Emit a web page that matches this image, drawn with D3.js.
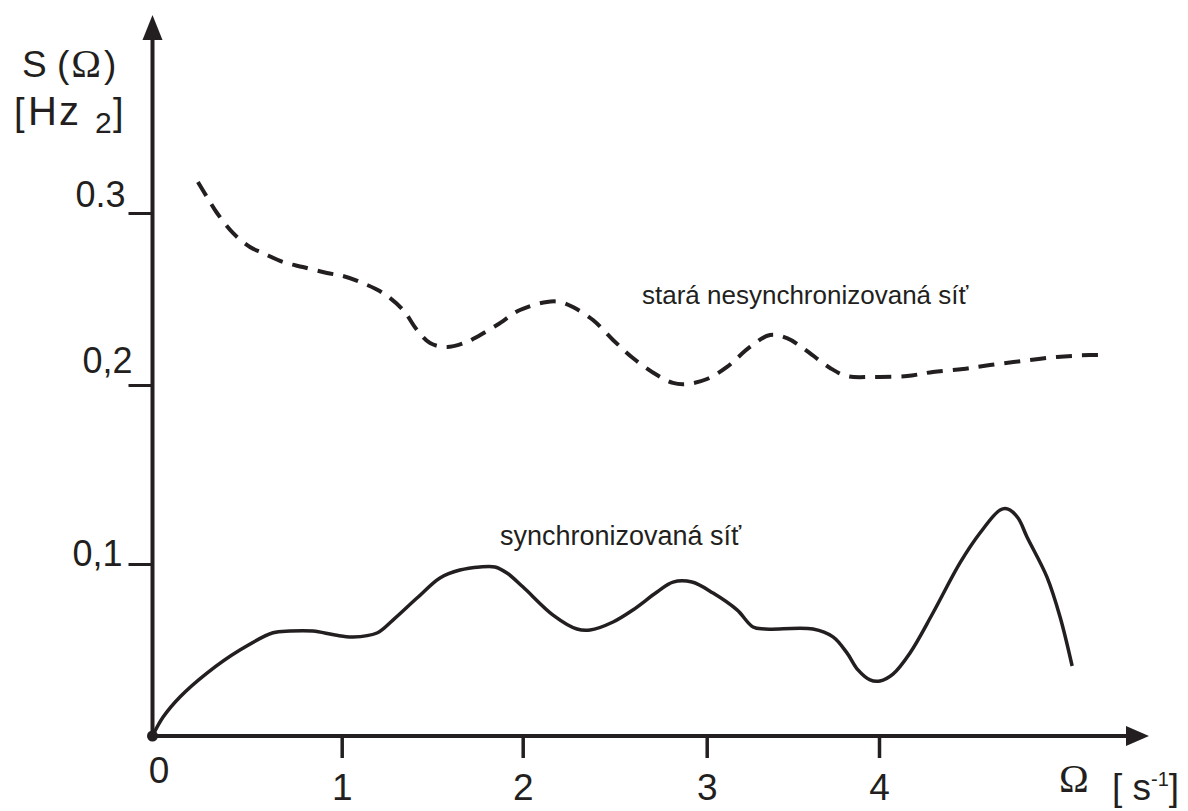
<!DOCTYPE html>
<html>
<head>
<meta charset="utf-8">
<script src="https://cdn.jsdelivr.net/npm/d3@7"></script>
<style>
body { margin: 0; background: #fff; }
text { font-family: "Liberation Sans", Arial, sans-serif; fill: #231f20; }
</style>
</head>
<body>
<script>
var xTicks = [0, 1, 2, 3, 4];
var xTickLabels = ['0', '1', '2', '3', '4'];
var yTicks = [0.1, 0.2, 0.3];
var yTickLabels = ['0,1', '0,2', '0.3'];

// synchronizovaná síť (solid)
var syncOmega = [0, 0.056, 0.145, 0.288, 0.462, 0.637, 0.727, 0.848, 0.965, 1.062, 1.195, 1.283, 1.416, 1.543, 1.653, 1.764, 1.847, 1.913,
                 2.002, 2.165, 2.295, 2.366, 2.491, 2.599, 2.730, 2.817, 2.920, 3.037, 3.176, 3.269, 3.338, 3.617, 3.733, 3.814, 3.878,
                 3.948, 4.006, 4.081, 4.180, 4.313, 4.470, 4.586, 4.703, 4.749, 4.807, 4.859, 4.975, 5.051, 5.121];
var syncS = [0, 0.011, 0.0227, 0.0366, 0.050, 0.060, 0.061, 0.061, 0.0587, 0.0576, 0.0599, 0.0674, 0.0802, 0.0919, 0.0965, 0.0983, 0.0983, 0.0948,
             0.0866, 0.0703, 0.0622, 0.0616, 0.0663, 0.0733, 0.0837, 0.0895, 0.0895, 0.0831, 0.0733, 0.0634, 0.0622, 0.0622, 0.0576, 0.0483, 0.0384,
             0.0326, 0.0320, 0.0360, 0.0483, 0.0715, 0.1006, 0.1173, 0.1302, 0.1307, 0.1257, 0.1151, 0.0924, 0.0692, 0.0407];

// stará nesynchronizovaná síť (dashed)
var oldOmega = [0.240, 0.288, 0.341, 0.425, 0.515, 0.584, 0.690, 0.795, 0.922, 1.007, 1.101, 1.228, 1.339, 1.416, 1.488, 1.582, 1.692, 1.725,
                1.858, 1.985, 2.132, 2.203, 2.273, 2.382, 2.491, 2.599, 2.730, 2.817, 2.893, 3.002, 3.118, 3.251, 3.367, 3.466, 3.559,
                3.716, 3.814, 3.965, 4.163, 4.313, 4.488, 4.644, 4.836, 5.033, 5.224, 5.323];
var oldS = [0.318, 0.3093, 0.300, 0.2884, 0.2802, 0.2767, 0.2715, 0.2686, 0.2651, 0.2634, 0.2599, 0.2535, 0.2436, 0.2320, 0.2244, 0.2221, 0.2250, 0.2267,
            0.2349, 0.2436, 0.2483, 0.2483, 0.2453, 0.2378, 0.2262, 0.2157, 0.2058, 0.2012, 0.2006, 0.2035, 0.2105, 0.2221, 0.2291, 0.2273, 0.2215,
            0.2099, 0.2052, 0.2047, 0.2052, 0.2076, 0.2093, 0.2116, 0.2140, 0.2163, 0.2174, 0.2174];

var w = 1188;
var h = 811;
var ink = '#231f20';

var svg = d3.select('body').append('svg')
                           .attr('width', w)
                           .attr('height', h);

// axes were drawn by hand, ticks are not evenly spaced -> piecewise scales
var ScaleX = d3.scaleLinear()
               .domain(xTicks)
               .range([152.5, 341.7, 522.7, 706.7, 879]);

var ScaleY = d3.scaleLinear()
               .domain([0].concat(yTicks))
               .range([736, 564, 385, 213]);

var x0 = ScaleX(0);
var y0 = ScaleY(0);

// axis lines with arrow heads
svg.append('line')
   .attr('x1', x0).attr('y1', y0)
   .attr('x2', x0).attr('y2', 36)
   .attr('stroke', ink).attr('stroke-width', 4);
svg.append('path')
   .attr('d', 'M' + (x0 - 10) + ',40L' + x0 + ',15L' + (x0 + 10) + ',40Z')
   .attr('fill', ink);

svg.append('line')
   .attr('x1', x0).attr('y1', y0)
   .attr('x2', 1130).attr('y2', y0)
   .attr('stroke', ink).attr('stroke-width', 4);
svg.append('path')
   .attr('d', 'M1126,' + (y0 - 10) + 'L1149,' + y0 + 'L1126,' + (y0 + 10) + 'Z')
   .attr('fill', ink);

var xAxis = d3.axisBottom(ScaleX)
              .tickValues(xTicks)
              .tickSize(22)
              .tickSizeOuter(0)
              .tickFormat(function(d, i){ return xTickLabels[i]; });

var gx = svg.append('g')
            .attr('transform', 'translate(0,' + y0 + ')')
            .attr('font-family', null)
            .attr('font-size', null)
            .call(xAxis);
gx.select('.domain').remove();
gx.selectAll('.tick line').attr('stroke', ink).attr('stroke-width', 3.5);
gx.selectAll('.tick').filter(function(d){ return d === 0; }).select('line').remove();
gx.selectAll('.tick text')
  .attr('y', function(d){ return d === 0 ? 47 : 64; })
  .attr('dx', function(d){ return d === 0 ? 6 : 0; })
  .attr('dy', 0)
  .style('font-size', '37px');

var yLabelDx = [-30, -20, -27];
var yLabelDy = [1, -13, -7];

var yAxis = d3.axisLeft(ScaleY)
              .tickValues(yTicks)
              .tickSize(24)
              .tickSizeOuter(0)
              .tickFormat(function(d, i){ return yTickLabels[i]; });

var gy = svg.append('g')
            .attr('transform', 'translate(' + x0 + ',0)')
            .attr('font-family', null)
            .attr('font-size', null)
            .call(yAxis);
gy.select('.domain').remove();
gy.selectAll('.tick line').attr('stroke', ink).attr('stroke-width', 3);
gy.selectAll('.tick text')
  .attr('x', function(d, i){ return yLabelDx[i]; })
  .attr('y', function(d, i){ return yLabelDy[i]; })
  .attr('dy', 0)
  .style('font-size', '36px');

// origin dot
svg.append('circle')
   .attr('cx', x0)
   .attr('cy', y0)
   .attr('r', 5.5)
   .attr('fill', ink);

var line = d3.line()
             .x(function(d){ return ScaleX(d[0]); })
             .y(function(d){ return ScaleY(d[1]); })
             .curve(d3.curveCatmullRom.alpha(0.5));

svg.append('path')
   .datum(d3.zip(oldOmega, oldS))
   .attr('d', line)
   .attr('fill', 'none')
   .attr('stroke', ink)
   .attr('stroke-width', 4)
   .attr('stroke-dasharray', '16,10');

svg.append('path')
   .datum(d3.zip(syncOmega, syncS))
   .attr('d', line)
   .attr('fill', 'none')
   .attr('stroke', ink)
   .attr('stroke-width', 3.5);

// series labels
svg.append('text')
   .attr('x', 642)
   .attr('y', 304)
   .style('font-size', '26px')
   .text('stará nesynchronizovaná síť');

svg.append('text')
   .attr('x', 500)
   .attr('y', 545)
   .style('font-size', '27px')
   .text('synchronizovaná síť');

// axis titles
var yTitle = svg.append('text').attr('x', 22).attr('y', 77);
yTitle.append('tspan').style('font-size', '37px').text('S (');
yTitle.append('tspan').attr('dx', 2).style('font-size', '40px').style('font-family', '"Liberation Serif", "Times New Roman", serif').text('Ω');
yTitle.append('tspan').attr('dx', 3).style('font-size', '37px').text(')');

svg.append('text').attr('x', 14).attr('y', 125).style('font-size', '38px').text('[');
svg.append('text').attr('x', 28).attr('y', 125).style('font-size', '40px').style('letter-spacing', '2px').text('Hz');
svg.append('text').attr('x', 95).attr('y', 133).style('font-size', '30px').text('2');
svg.append('text').attr('x', 113).attr('y', 125).style('font-size', '38px').text(']');

svg.append('text')
   .attr('x', 1059)
   .attr('y', 792)
   .style('font-size', '40px')
   .style('font-family', '"Liberation Serif", "Times New Roman", serif')
   .text('Ω');

var xTitle = svg.append('text').attr('x', 1112).attr('y', 800).style('font-size', '37px');
xTitle.append('tspan').text('[ s');
xTitle.append('tspan').attr('dy', -14).style('font-size', '20px').text('-1');
xTitle.append('tspan').attr('dy', 14).text(']');
</script>
</body>
</html>
